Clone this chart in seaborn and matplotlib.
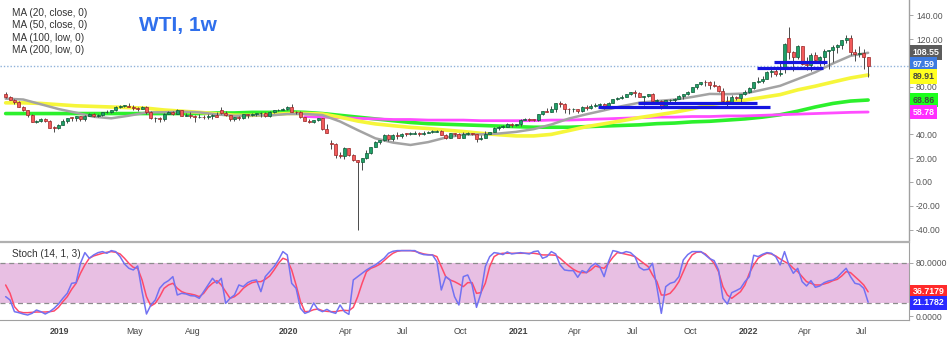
import numpy as np
import pandas as pd
import matplotlib
matplotlib.use("Agg")
import matplotlib.pyplot as plt
import matplotlib.dates as mdates
import matplotlib.transforms as mtransforms
import seaborn as sns

# ---------------- weekly WTI bars (weeks starting Monday) ----------------
first_week = "2018-10-08"

week_open = [
    74.3, 71.3, 69.1, 67.6, 63.1, 60.2, 56.5, 50.4, 50.9, 52.6, 51.2, 45.6, 45.3,
    48.0, 51.6, 53.8, 53.7, 55.3, 52.7, 55.6, 57.3, 55.8, 56.1, 58.5, 59.0, 60.1, 63.1, 63.9, 64.0, 63.3,
    61.9, 61.7, 62.8, 58.6, 53.5, 54.0, 52.5, 57.4, 58.5, 57.5, 60.2, 55.6, 56.2, 55.7, 54.5, 54.9, 54.2,
    55.1, 56.5, 60.7, 58.1, 55.9, 52.8, 54.7, 53.8, 56.7, 56.2, 57.2, 57.7, 57.8, 55.2, 59.2, 60.1, 60.4, 61.7,
    63.1, 59.0, 58.5, 54.2, 51.6, 50.3, 52.1, 53.4, 44.8, 33.0, 31.7, 22.4, 21.5, 28.3, 22.8, 18.3, 16.9,
    19.8, 24.7, 29.4, 33.3, 35.5, 39.6, 36.3, 39.8, 38.5, 40.7, 40.6, 40.6, 41.3, 40.3, 41.2, 42.0, 42.3,
    43.0, 39.8, 37.3, 41.1, 40.3, 37.1, 40.6, 40.9, 39.9, 35.8, 37.1, 40.1, 42.2, 45.5, 46.3, 46.6, 49.1, 48.2,
    48.5, 52.2, 52.4, 52.3, 52.2, 56.9, 59.5, 59.2, 61.5, 66.1, 65.6, 61.4, 61.0, 61.5, 59.3, 63.1, 62.1,
    63.6, 64.9, 65.4, 63.6, 66.3, 69.6, 70.9, 71.6, 74.1, 75.2, 74.6, 71.8, 72.1, 74.0, 68.3, 68.4, 62.3,
    68.7, 69.3, 69.7, 72.0, 74.0, 75.9, 79.4, 82.3, 83.8, 83.6, 81.3, 80.8, 76.1, 68.2, 66.3, 71.7, 70.9, 73.8,
    75.2, 78.9, 83.8, 85.1, 86.8, 92.3, 93.1, 91.1, 95.5, 121.0, 109.3, 104.7, 113.9, 99.3, 98.3, 107.0,
    102.1, 104.7, 109.8, 110.5, 113.2, 115.1, 118.9, 120.7, 109.6, 107.6, 108.4, 104.8,
]
week_high = [
    75.3, 72.2, 69.9, 68.0, 63.9, 60.7, 57.5, 52.4, 54.0, 53.5, 51.9, 46.8, 48.8,
    52.8, 54.0, 54.2, 55.8, 55.4, 55.9, 57.8, 57.9, 57.4, 58.9, 60.4, 60.6, 63.5, 64.8, 64.6, 66.6, 64.8,
    63.0, 63.9, 63.6, 59.5, 54.6, 54.6, 58.0, 59.9, 60.0, 60.9, 60.4, 57.6, 58.8, 55.9, 57.5, 56.4, 56.9,
    57.0, 58.8, 63.4, 59.5, 56.0, 54.9, 55.1, 56.9, 56.9, 57.9, 57.9, 58.7, 58.9, 59.8, 60.4, 61.4, 61.9, 64.1,
    65.7, 59.6, 59.7, 54.5, 52.6, 52.3, 54.0, 53.6, 48.7, 34.9, 33.0, 25.2, 29.1, 28.4, 23.6, 18.5, 20.5,
    26.7, 29.6, 34.7, 35.5, 39.9, 40.4, 40.5, 41.6, 41.0, 41.4, 41.8, 42.5, 42.2, 42.9, 43.1, 43.4, 43.8,
    43.5, 40.0, 41.4, 41.2, 41.0, 41.6, 41.7, 41.5, 39.9, 39.2, 43.1, 42.4, 46.3, 46.7, 47.7, 49.3, 49.5, 48.9,
    52.8, 53.9, 53.6, 53.3, 57.0, 59.8, 62.3, 63.8, 66.4, 67.9, 66.4, 62.3, 62.0, 61.6, 64.0, 64.4, 65.5,
    66.7, 66.5, 66.0, 67.0, 69.8, 71.0, 72.9, 74.3, 76.0, 76.9, 75.5, 72.3, 74.2, 74.5, 69.9, 68.6, 69.1,
    70.1, 70.4, 73.0, 74.3, 76.7, 79.8, 82.5, 84.0, 85.4, 84.9, 85.0, 81.3, 79.0, 72.0, 73.0, 72.6, 73.9, 77.2,
    80.2, 84.0, 87.9, 88.8, 93.2, 94.9, 95.8, 100.5, 116.6, 130.5, 110.0, 115.4, 114.0, 104.6, 108.0, 108.8,
    105.5, 111.4, 111.0, 115.0, 115.6, 119.0, 123.2, 123.7, 111.5, 114.0, 111.5, 105.0,
]
week_low = [
    70.8, 68.5, 65.7, 62.8, 59.8, 54.8, 50.2, 49.4, 50.1, 50.3, 45.5, 42.4, 44.4,
    47.9, 49.9, 51.3, 51.3, 51.2, 51.6, 55.4, 54.5, 55.0, 55.8, 58.1, 58.0, 60.0, 62.5, 63.1, 62.7, 60.5,
    60.0, 61.2, 57.4, 52.9, 50.6, 50.7, 51.3, 57.0, 55.9, 57.3, 55.3, 55.5, 53.6, 50.5, 53.9, 53.1, 52.9,
    52.7, 54.6, 57.3, 55.3, 50.9, 51.3, 51.9, 52.8, 53.7, 55.8, 55.7, 55.0, 55.0, 55.0, 58.1, 59.8, 60.3, 60.6,
    58.7, 57.4, 53.7, 51.3, 49.3, 49.3, 51.6, 44.0, 41.0, 27.3, 20.1, 20.5, 19.3, 22.0, 17.3, -40.3, 10.1,
    19.1, 23.5, 29.2, 31.7, 34.6, 34.7, 34.7, 36.1, 37.1, 39.0, 39.2, 40.2, 38.7, 39.6, 40.9, 41.5, 41.6,
    39.2, 36.1, 36.8, 38.6, 36.6, 37.0, 39.1, 39.6, 33.6, 34.9, 37.0, 40.0, 41.9, 43.9, 45.2, 46.3, 46.2, 47.0,
    47.2, 51.7, 51.5, 51.5, 51.6, 56.6, 58.6, 58.6, 59.2, 63.1, 58.3, 57.3, 58.9, 57.6, 59.0, 60.8, 61.2,
    63.4, 63.1, 61.6, 63.0, 66.0, 68.5, 70.0, 71.2, 72.8, 71.0, 71.1, 65.0, 71.2, 67.6, 65.2, 61.7, 62.1,
    67.5, 67.6, 69.5, 69.9, 73.0, 75.3, 78.5, 81.2, 80.6, 78.3, 79.4, 75.6, 67.4, 62.4, 66.0, 69.3, 66.1, 73.5,
    75.1, 78.0, 83.0, 82.8, 86.6, 88.2, 88.8, 89.0, 91.5, 103.5, 93.5, 103.0, 98.4, 93.9, 92.9, 100.0,
    97.4, 98.2, 95.1, 100.9, 108.5, 111.4, 117.0, 107.0, 101.5, 104.6, 95.1, 88.0,
]
week_close = [
    71.3, 69.1, 67.6, 63.1, 60.2, 56.5, 50.4, 50.9, 52.6, 51.2, 45.6, 45.3, 48.0,
    51.6, 53.8, 53.7, 55.3, 52.7, 55.6, 57.3, 55.8, 56.1, 58.5, 59.0, 60.1, 63.1, 63.9, 64.0, 63.3, 61.9,
    61.7, 62.8, 58.6, 53.5, 54.0, 52.5, 57.4, 58.5, 57.5, 60.2, 55.6, 56.2, 55.7, 54.5, 54.9, 54.2, 55.1,
    56.5, 54.9, 58.1, 55.9, 52.8, 54.7, 53.8, 56.7, 56.2, 57.2, 57.7, 57.8, 55.2, 59.2, 60.1, 60.4, 61.7, 63.1,
    59.0, 58.5, 54.2, 51.6, 50.3, 52.1, 53.4, 44.8, 41.3, 31.7, 22.4, 21.5, 28.3, 22.8, 18.3, 16.9, 19.8,
    24.7, 29.4, 33.3, 35.5, 39.6, 36.3, 39.8, 38.5, 40.7, 40.6, 40.6, 41.3, 40.3, 41.2, 42.0, 42.3, 43.0,
    39.8, 37.3, 41.1, 40.3, 37.1, 40.6, 40.9, 39.9, 35.8, 37.1, 40.1, 42.2, 45.5, 46.3, 46.6, 49.1, 48.2, 48.5,
    52.2, 52.4, 52.3, 52.2, 56.9, 59.5, 59.2, 61.5, 66.1, 65.6, 61.4, 61.0, 61.5, 59.3, 63.1, 62.1, 63.6,
    64.9, 65.4, 63.6, 66.3, 69.6, 70.9, 71.6, 74.1, 75.2, 74.6, 71.8, 72.1, 74.0, 68.3, 68.4, 62.3, 68.7,
    69.3, 69.7, 72.0, 74.0, 75.9, 79.4, 82.3, 83.8, 83.6, 81.3, 80.8, 76.1, 68.2, 66.3, 71.7, 70.9, 73.8, 75.2,
    78.9, 83.8, 85.1, 86.8, 92.3, 93.1, 91.1, 91.6, 115.7, 109.3, 104.7, 113.9, 99.3, 98.3, 107.0, 102.1,
    104.7, 109.8, 110.5, 113.2, 115.1, 118.9, 120.7, 109.6, 107.6, 108.4, 104.8, 97.59,
]

# ---------------- moving averages, one reading every 4 weeks ----------------
ma_every = 4
ma20_close = [
    70.0, 69.3, 65.3, 61.3, 58.2, 54.8, 53.5, 55.7, 58.4, 58.6,
    59.1, 58.5, 56.8, 55.6, 56.0, 55.9, 57.1, 57.2, 56.2, 50.8,
    43.6, 36.7, 33.1, 31.1, 33.5, 37.3, 39.9, 40.0, 40.7, 42.1,
    44.4, 48.3, 53.3, 56.9, 60.2, 63.7, 66.6, 68.0, 69.2, 71.4,
    74.0, 73.8, 74.3, 77.5, 80.8, 86.5, 92.2, 99.6, 106.0, 108.55,
]
ma50_close = [
    66.5, 66.5, 66.0, 65.0, 64.0, 63.5, 63.0, 62.5, 62.0, 60.5,
    59.5, 58.5, 57.3, 56.1, 56.0, 56.6, 57.5, 57.6, 57.1, 54.5,
    51.2, 48.8, 47.3, 45.9, 44.9, 43.6, 42.4, 40.9, 39.7, 38.7,
    38.7, 40.0, 43.2, 46.5, 48.9, 51.4, 54.1, 56.3, 58.6, 61.4,
    64.9, 67.0, 68.8, 71.1, 73.4, 77.4, 80.5, 84.0, 87.4, 89.91,
]
ma100_low = [
    57.5, 57.5, 57.5, 57.5, 57.5, 57.5, 57.5, 57.5, 57.5, 57.5,
    57.5, 57.5, 58.0, 58.0, 58.5, 58.5, 59.0, 58.5, 57.5, 56.0,
    54.5, 53.0, 51.5, 50.0, 49.0, 48.5, 48.0, 47.5, 47.0, 46.5,
    46.0, 46.0, 46.0, 46.5, 47.0, 47.5, 48.0, 49.0, 49.5, 50.5,
    51.0, 52.0, 53.0, 54.5, 56.5, 59.5, 63.0, 66.0, 68.0, 68.86,
]
ma200_low = [np.nan] * 17 + [
    55.0, 54.5, 54.0, 53.5, 53.0, 52.5, 52.5, 52.0, 52.0, 52.0,
    51.5, 51.5, 51.5, 51.5, 52.0, 52.0, 52.5, 53.0, 53.5, 54.0,
    54.5, 54.5, 55.0, 55.0, 55.5, 55.5, 56.0, 56.5, 57.0, 57.5,
    58.0, 58.5, 58.78,
]

# ---------------- stochastic (14, 1, 3) ----------------
stoch_k = [
    29.5, 24.5, 7, 5.5, 3.5, 2, 4.5, 9.5, 7, 3.5,
    7, 12, 18.5, 27, 34.5, 49.5, 50.5, 79.5, 95.5, 87,
    92, 95.5, 97, 94.5, 98.5, 97, 89.5, 78.5, 72, 69.5,
    75.5, 37, 3.5, 17, 24.5, 42, 49.5, 53.5, 59.5, 32,
    34.5, 33.5, 31, 30.5, 27, 37, 47, 57, 49.5, 57,
    19.5, 27, 32, 47, 44.5, 50.5, 53.5, 54.5, 37, 59.5,
    67, 74.5, 84.5, 97, 92, 49.5, 42, 12, 4.5, 7,
    20, 10, 7, 10.5, 6.5, 4.5, 17, 7, 3, 54.5,
    59.5, 64.5, 69.5, 73.5, 77, 82, 87, 94.5, 97.5, 98.5,
    98.5, 98.5, 98.5, 98.5, 94.5, 92.5, 92, 92, 82, 39.5,
    59.5, 54.5, 29.5, 17, 59.5, 62, 47, 13.5, 34.5, 74.5,
    89.5, 95.5, 94.5, 92.5, 96.5, 93.5, 94.5, 95.5, 94.5, 93.5,
    97, 98, 87, 89.5, 97, 93.5, 77, 69.5, 68.5, 68.5,
    58.5, 68.5, 65.5, 74.5, 79.5, 74.5, 59.5, 82, 98.5, 97,
    94.5, 97, 95.5, 89.5, 73.5, 69.5, 70.5, 79.5, 43.5, 4.5,
    44.5, 49.5, 51.5, 59.5, 84.5, 92.5, 97, 97, 97, 92,
    86.5, 83.5, 69.5, 27, 18.5, 35.5, 38.5, 42, 52, 59.5,
    91.5, 89.5, 93, 95.5, 94.5, 89.5, 77, 97, 77, 64.5,
    72, 52, 45.5, 53.5, 43.5, 45.5, 50.5, 53, 54.5, 58.5,
    65.5, 72, 59.5, 49.5, 48, 42, 21.1782,
]
stoch_d = [
    47, 34.5, 14.5, 7, 5.5, 5.5, 6, 6.5, 6.5, 6.5,
    7, 8, 13.5, 22, 29.5, 40.5, 49.5, 64.5, 77, 87,
    90.5, 92.5, 94.5, 96, 97, 96, 93.5, 87, 79.5, 73.5,
    72, 54.5, 29.5, 15.5, 19.5, 29.5, 42, 47, 49.5, 42,
    37, 34.5, 33.5, 32, 29.5, 34.5, 43.5, 49.5, 53.5, 47,
    37, 27, 29.5, 34.5, 42, 47, 50.5, 52, 52, 55.5,
    60.5, 69.5, 79.5, 87, 84.5, 69.5, 47, 22, 7, 7.5,
    10, 11, 8.5, 7.5, 7, 7, 8.5, 9, 8.5, 13.5,
    29.5, 49.5, 67, 72, 74.5, 78, 83.5, 89.5, 94.5, 97.5,
    98.5, 98.5, 98.5, 97.5, 95.5, 93.5, 92.5, 92, 89.5, 74.5,
    59.5, 54.5, 52, 48.5, 44.5, 50.5, 50.5, 34.5, 35.5, 49.5,
    74.5, 89.5, 93.5, 94.5, 94.5, 94.5, 94.5, 94.5, 94.5, 94.5,
    94.5, 93.5, 92, 92, 92, 91.5, 87, 81, 75.5, 70.5,
    67, 65.5, 65.5, 69.5, 75.5, 73.5, 72, 79.5, 88.5, 95.5,
    94.5, 93, 91.5, 89.5, 84.5, 79.5, 74.5, 62, 52, 32,
    32, 34.5, 42, 52, 67, 82, 92, 96, 96.5, 93.5,
    87, 79.5, 67, 44.5, 32, 27, 32, 37, 47, 64.5,
    77, 87, 91.5, 94.5, 93.5, 90.5, 86, 82, 78.5, 72,
    67, 59.5, 52, 49.5, 47, 47, 48.5, 50.5, 53.5, 55.5,
    60.5, 67, 65.5, 59.5, 53.5, 47, 36.7179,
]

# ---------------- hand-drawn support / resistance levels ----------------
sr_price = [66.3, 62.8, 101.0, 95.5]
sr_start = ["2021-07-10", "2021-05-07", "2022-02-11", "2022-01-15"]
sr_end = ["2022-01-15", "2022-02-05", "2022-05-07", "2022-04-30"]

last_price = 97.59

# price levels whose axis labels sit under the value tags
price_ticks = [-40, -20, 0, 20, 40, 60, 80, 100, 120, 140]
hidden_price_labels = [60, 100]

tick_dates = ["2019-01-01", "2019-05-01", "2019-08-01", "2020-01-01", "2020-04-01",
              "2020-07-01", "2020-10-01", "2021-01-01", "2021-04-01", "2021-07-01",
              "2021-10-01", "2022-01-01", "2022-04-01", "2022-07-01"]
tick_names = ["2019", "May", "Aug", "2020", "Apr", "Jul", "Oct", "2021", "Apr", "Jul",
              "Oct", "2022", "Apr", "Jul"]

ma_names = ["MA (20, close, 0)", "MA (50, close, 0)", "MA (100, low, 0)", "MA (200, low, 0)"]

# ---------------- frames ----------------
sns.set_style("white")
plt.rcParams["font.family"] = ["Liberation Sans", "DejaVu Sans"]

weeks = pd.date_range(first_week, periods=len(week_close), freq="7D")
bars = pd.DataFrame({"week": weeks, "open": week_open, "high": week_high,
                     "low": week_low, "close": week_close})
ma = pd.DataFrame({"week": weeks[::ma_every], "ma20": ma20_close, "ma50": ma50_close,
                   "ma100": ma100_low, "ma200": ma200_low})
stoch = pd.DataFrame({"week": weeks, "k": stoch_k, "d": stoch_d})

fig = plt.figure(figsize=(9.5, 3.37), dpi=100, facecolor="white")
right = 909 / 950
ax = fig.add_axes([0.0, 0.288, right, 0.712])
ax_st = fig.add_axes([0.0, 0.0504, right, 0.2315], sharex=ax)

# ---------------- price panel ----------------
ma_style = [("ma100", "#2cf02c", 2.6), ("ma200", "#ff4dff", 2.0),
            ("ma50", "#f6f63a", 2.6), ("ma20", "#a3a3a3", 1.8)]
for col, colr, lw in ma_style:
    sns.lineplot(data=ma, x="week", y=col, ax=ax, color=colr, lw=lw, zorder=2)

xs = mdates.date2num(bars["week"])
o = bars["open"].to_numpy()
c = bars["close"].to_numpy()
up = c >= o
lo = np.minimum(o, c)
hgt = np.maximum(np.abs(c - o), 0.5)
ax.vlines(xs, bars["low"], bars["high"], color="#4a4a4a", lw=0.7, zorder=3)
ax.bar(xs[up], hgt[up], bottom=lo[up], width=4.8, color="#1fa067",
       edgecolor="#0d5a36", linewidth=0.5, zorder=4)
ax.bar(xs[~up], hgt[~up], bottom=lo[~up], width=4.8, color="#f25b5b",
       edgecolor="#9c2525", linewidth=0.5, zorder=4)

for p, s, e in zip(sr_price, sr_start, sr_end):
    ax.hlines(p, pd.Timestamp(s), pd.Timestamp(e), color="#1515e0", lw=2.3, zorder=5)

ax.axhline(last_price, color="#8fb2da", lw=1.0, ls=(0, (1, 1.4)), zorder=1)

ax.set_xlim(pd.Timestamp("2018-09-29"), pd.Timestamp("2022-09-14"))
ax.set_ylim(-48.7, 152.9)
ax.yaxis.tick_right()
ax.set_yticks(price_ticks)
ax.set_yticklabels(["" if v in hidden_price_labels else f"{v:.2f}" for v in price_ticks])
ax.tick_params(axis="y", length=3, width=0.6, color="#999999", labelsize=6.2,
               labelcolor="#555555", pad=2)
ax.tick_params(axis="x", bottom=False, labelbottom=False)
for sp in ["top", "left", "bottom"]:
    ax.spines[sp].set_visible(False)
ax.spines["right"].set_color("#a0a0a0")
ax.spines["right"].set_linewidth(1.0)
ax.set_xlabel("")
ax.set_ylabel("")

ytrans = mtransforms.blended_transform_factory(ax.transAxes, ax.transData)
price_tags = [("108.55", 108.55, "#5c5c5c", "white"),
              ("97.59", last_price + 1.3, "#3d7be0", "white"),
              ("89.91", 89.91 - 1.5, "#ffff1f", "#444444"),
              ("68.86", 68.86, "#1cff1c", "#444444"),
              ("58.78", 58.78, "#ff2eff", "white")]
for txt, yv, fc, tc in price_tags:
    ax.text(1.004, yv, txt, transform=ytrans, fontsize=6.3, fontweight="bold", color=tc,
            ha="left", va="center", clip_on=False, zorder=10,
            bbox=dict(boxstyle="square,pad=0.32", fc=fc, ec="none"))

# ---------------- stochastic panel ----------------
ax_st.axhspan(20, 80, color="#e8bfe3", zorder=0, lw=0)
for lvl in (20, 80):
    ax_st.axhline(lvl, color="#8c8c8c", lw=0.9, ls=(0, (4, 3)), zorder=1)
sns.lineplot(data=stoch, x="week", y="k", ax=ax_st, color="#7272f2", lw=1.1, zorder=3)
sns.lineplot(data=stoch, x="week", y="d", ax=ax_st, color="#ff4a6a", lw=1.1, zorder=2)

ax_st.set_ylim(-5.5, 111.4)
ax_st.yaxis.tick_right()
ax_st.set_yticks([0, 80])
ax_st.yaxis.set_major_formatter(plt.FuncFormatter(lambda v, _: f"{v:.4f}"))
ax_st.tick_params(axis="y", length=3, width=0.6, color="#999999", labelsize=6.2,
                  labelcolor="#555555", pad=2)
ax_st.set_xticks([pd.Timestamp(d) for d in tick_dates])
ax_st.set_xticklabels(tick_names)
ax_st.tick_params(axis="x", length=3, width=0.6, color="#999999", labelsize=6.3,
                  labelcolor="#444444", pad=2)
for lab, name in zip(ax_st.get_xticklabels(), tick_names):
    if name.isdigit():
        lab.set_fontweight("bold")
ax_st.spines["left"].set_visible(False)
ax_st.spines["top"].set_color("#b0b0b0")
ax_st.spines["top"].set_linewidth(1.6)
ax_st.spines["bottom"].set_color("#a0a0a0")
ax_st.spines["right"].set_color("#a0a0a0")
ax_st.set_xlabel("")
ax_st.set_ylabel("")

stoch_tags = [("36.7179", stoch_d[-1], "#ff2a2a", "white"),
              ("21.1782", stoch_k[-1] - 1.0, "#2a2aff", "white")]
st_trans = mtransforms.blended_transform_factory(ax_st.transAxes, ax_st.transData)
for txt, yv, fc, tc in stoch_tags:
    ax_st.text(1.004, yv, txt, transform=st_trans, fontsize=6.3, fontweight="bold", color=tc,
               ha="left", va="center", clip_on=False, zorder=10,
               bbox=dict(boxstyle="square,pad=0.3", fc=fc, ec="none"))

# ---------------- headings ----------------
for k, name in enumerate(ma_names):
    fig.text(12 / 950, 1 - (13.3 + 12.2 * k) / 337, name, fontsize=7.2, color="#333333",
             va="center", ha="left")
fig.text(139 / 950, 1 - 25 / 337, "WTI, 1w", fontsize=15, fontweight="bold",
         color="#2f6fec", va="center", ha="left")
fig.text(12 / 950, 1 - 254 / 337, "Stoch (14, 1, 3)", fontsize=7.2, color="#333333",
         va="center", ha="left")

fig.savefig("out.png", dpi=100, facecolor="white")
